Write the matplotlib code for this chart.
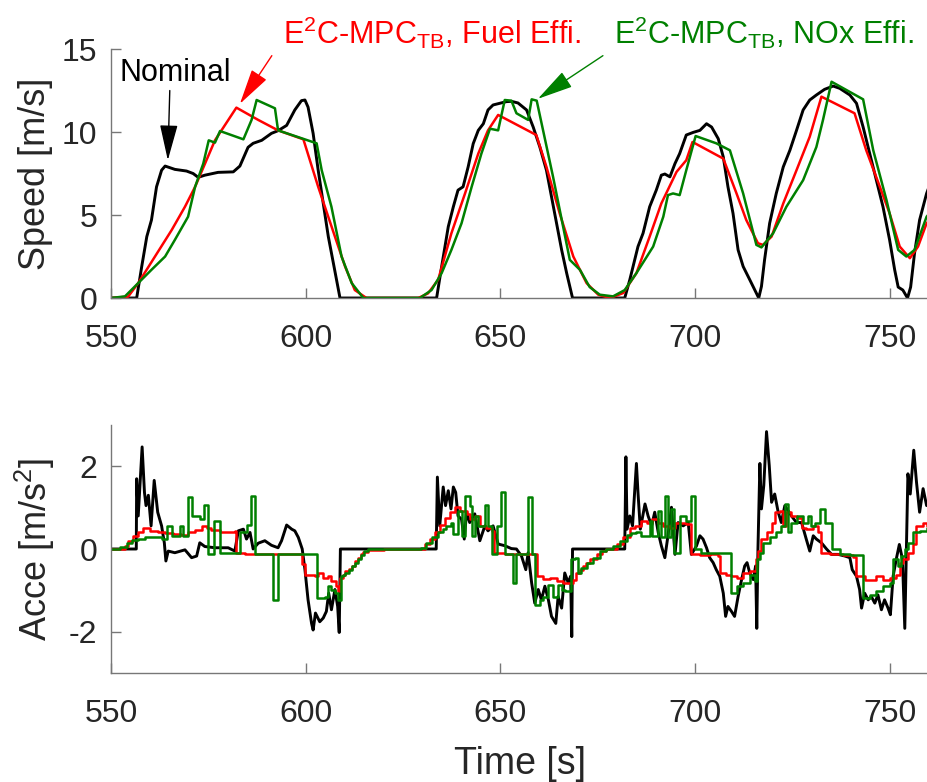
import matplotlib
matplotlib.use("Agg")
import matplotlib.pyplot as plt

plt.rcParams['font.family'] = ['Liberation Sans', 'DejaVu Sans']
plt.rcParams['mathtext.fontset'] = 'custom'
plt.rcParams['mathtext.rm'] = 'Liberation Sans'
plt.rcParams['mathtext.it'] = 'Liberation Sans:italic'
plt.rcParams['axes.unicode_minus'] = False

# speed [m/s], nominal trajectory
t_nom = [550, 556.6, 557.9, 559.2, 560.4, 561.7, 563.0, 563.9, 566.4, 569.4, 571.1, 572.4,
         574.1, 577.5, 581.4, 583.1, 585.2, 586.5, 588.7, 591.2, 592.9, 595.1, 597.2, 598.9,
         599.8, 600.6, 601.9, 603.2, 604.5, 605.8, 607.1, 608.8, 633.6, 634.9, 636.6, 637.9,
         639.1, 640.4, 641.7, 643.0, 644.3, 645.6, 646.8, 648.1, 649.8, 651.5, 652.8, 654.5,
         656.7, 658.4, 660.1, 661.8, 663.1, 664.4, 665.7, 667.0, 668.5, 681.9, 683.2, 685.3,
         686.6, 688.3, 690.0, 691.3, 692.2, 693.5, 694.8, 696.0, 697.7, 699.5, 701.2, 702.9,
         704.2, 705.9, 707.2, 708.4, 709.7, 711.0, 712.3, 714.0, 715.3, 716.3, 717.0, 717.8,
         719.1, 720.8, 722.6, 724.3, 726.0, 727.7, 729.4, 731.1, 733.2, 735.4, 737.1, 739.7,
         741.4, 743.1, 744.8, 746.5, 748.2, 749.9, 751.2, 752.1, 753.3, 754.5, 755.3, 756.3,
         757.6, 759.4, 760.5]
v_nom = [0, 0, 1.9, 3.7, 4.7, 6.7, 7.7, 7.95, 7.75, 7.65, 7.5, 7.27,
         7.4, 7.57, 7.6, 7.95, 9.08, 9.32, 9.5, 9.92, 10.08, 10.4, 11.33, 11.89,
         11.93, 11.5, 9.92, 7.7, 5.7, 3.7, 2.1, 0, 0, 1.9, 4.3, 5.5,
         6.5, 6.7, 7.9, 9.3, 10.1, 10.5, 11.33, 11.63, 11.73, 11.83, 11.85, 11.75,
         11.33, 10.3, 9.1, 7.7, 6.1, 4.5, 2.9, 1.49, 0, 0, 1.1, 3.1,
         3.9, 5.5, 6.5, 7.4, 7.47, 7.3, 8.1, 8.7, 9.82, 9.98, 10.1, 10.5,
         10.3, 9.6, 8.5, 6.7, 5.1, 2.9, 1.9, 1.1, 0.48, 0, 0.7, 2.3,
         4.5, 6.3, 7.9, 8.9, 10.1, 11.33, 11.93, 12.23, 12.57, 12.77, 12.63, 12.23,
         11.73, 10.3, 8.7, 7.1, 5.5, 3.5, 1.7, 0.66, 0.48, 0, 0.66, 2.7,
         4.7, 6.3, 7.0]

# speed, E2C-MPC_TB fuel efficient
t_fuel = [550, 554.4, 557.0, 561.3, 565.6, 569.0, 571.6, 576.7, 582.2, 587.8, 592.9, 599.4,
          603.2, 607.5, 610.1, 612.6, 615.6, 628.9, 631.4, 634.0, 637.4, 640.9, 644.3, 646.8,
          649.4, 659.2, 661.8, 665.2, 668.7, 672.1, 675.1, 678.1, 681.5, 684.9, 688.3, 691.3,
          695.2, 697.7, 699.3, 707.2, 710.6, 713.1, 716.1, 717.4, 719.6, 722.6, 726.0, 729.4,
          732.4, 740.9, 743.9, 747.4, 749.9, 752.5, 755.1, 757.2, 759.4, 760.5]
v_fuel = [0, 0.08, 0.9, 2.5, 4.1, 5.5, 6.7, 9.5, 11.47, 10.73, 10.1, 9.56,
          6.7, 3.7, 1.9, 0.48, 0, 0, 0.28, 1.1, 3.9, 6.3, 8.7, 10.1,
          11.03, 9.82, 7.9, 5.1, 2.5, 0.9, 0.2, 0, 0.3, 1.5, 3.7, 5.7,
          7.6, 8.3, 9.4, 8.4, 6.3, 4.7, 3.3, 3.2, 3.7, 5.7, 7.7, 9.72,
          12.13, 11.13, 8.9, 6.7, 5.1, 3.1, 2.4, 3.1, 4.5, 4.8]

# speed, E2C-MPC_TB NOx efficient
t_nox = [550, 553.6, 557.0, 560.4, 563.9, 566.4, 569.8, 571.6, 573.7, 575.1, 576.7, 578.0,
         584.0, 586.1, 587.4, 592.1, 592.9, 602.8, 604.1, 606.6, 609.2, 611.8, 614.8, 629.3,
         632.3, 634.9, 637.4, 640.0, 642.6, 645.1, 647.3, 649.4, 651.1, 652.8, 654.1, 657.1,
         658.0, 659.3, 663.5, 667.8, 670.4, 672.9, 675.5, 678.9, 681.9, 684.9, 689.2, 691.8,
         693.0, 694.3, 696.0, 697.7, 700.1, 705.4, 708.9, 712.3, 715.7, 717.0, 720.0, 723.4,
         727.7, 731.1, 732.8, 735.0, 743.1, 745.7, 749.1, 752.1, 754.2, 756.3, 759.4, 760.5]
v_nox = [0, 0.1, 0.9, 1.7, 2.5, 3.5, 4.9, 6.7, 8.1, 9.5, 9.36, 10.06,
         9.56, 10.73, 11.93, 11.43, 10.1, 9.32, 7.7, 5.5, 2.5, 0.9, 0, 0,
         0.48, 1.5, 2.9, 4.5, 6.7, 8.7, 10.2, 10.1, 11.93, 11.89, 11.13, 10.73,
         11.97, 11.89, 7.3, 2.3, 1.7, 0.66, 0.2, 0.1, 0.48, 1.5, 3.1, 4.9,
         6.2, 6.3, 6.2, 7.7, 9.76, 9.32, 8.9, 6.3, 3.2, 3.05, 3.9, 5.5,
         7.1, 9.1, 10.73, 13.03, 11.97, 8.9, 5.9, 2.9, 2.5, 2.9, 4.9, 5.2]

# acceleration [m/s^2], nominal
ta_nom = [550, 556.5, 556.6, 557.0, 558.0, 558.6, 559.0, 559.6, 560.3, 561.1, 562.0, 563.0,
          563.7, 564.1, 564.7, 566.4, 569.0, 570.7, 572.0, 572.8, 574.1, 576.7, 580.1, 581.8,
          582.7, 584.0, 584.8, 585.7, 586.5, 587.8, 589.5, 591.2, 592.9, 593.8, 595.1, 596.4,
          597.2, 598.1, 599.1, 599.8, 600.6, 601.5, 601.9, 602.5, 603.6, 604.5, 605.3, 605.9,
          606.6, 607.5, 608.2, 608.6, 608.9, 633.5, 633.8, 634.4, 635.3, 635.9, 636.6, 637.3,
          637.9, 638.5, 639.1, 640.0, 640.7, 641.3, 642.1, 643.4, 644.7, 646.0, 646.8, 648.1,
          649.4, 651.1, 652.8, 654.1, 655.4, 656.5, 657.1, 658.0, 658.8, 659.7, 660.5, 661.4,
          662.3, 663.1, 664.2, 664.8, 665.7, 666.5, 667.4, 668.0, 668.3, 668.5, 681.9, 682.2,
          682.5, 683.2, 683.9, 684.9, 685.3, 685.9, 687.1, 687.9, 688.8, 689.6, 690.5, 691.3,
          692.2, 693.0, 693.9, 694.8, 695.6, 696.9, 698.2, 699.0, 700.3, 701.2, 702.0, 702.9,
          703.7, 704.6, 705.4, 706.3, 707.2, 707.8, 708.4, 709.3, 710.1, 711.0, 711.9, 712.7,
          713.3, 714.0, 714.9, 715.5, 715.8, 716.1, 716.6, 717.0, 717.6, 718.3, 719.0, 719.6,
          720.4, 721.3, 722.1, 723.0, 723.8, 724.7, 726.0, 727.3, 728.5, 729.4, 730.3, 731.1,
          732.4, 733.7, 735.0, 736.7, 738.4, 739.7, 740.3, 741.4, 742.2, 742.7, 743.5, 744.4,
          745.2, 746.1, 746.9, 747.8, 748.6, 749.5, 750.1, 750.8, 751.6, 752.4, 753.2, 753.8,
          754.2, 754.6, 755.2, 756.1, 756.8, 757.6, 758.5, 759.4, 760.5]
a_nom = [0, 0, 1.7, 0.8, 2.47, 1.37, 1.05, 1.3, 0.56, 1.66, 0.89, 0.56,
         0.15, -0.29, -0.05, -0.09, -0.02, -0.21, -0.17, 0.15, 0.06, 0.03, 0.03, -0.05,
         0.44, 0.48, 0.24, 0.4, 0, 0.14, 0.2, 0.09, 0.03, 0.2, 0.58, 0.48,
         0.44, 0.28, 0, -0.5, -1.23, -1.8, -1.96, -1.55, -1.76, -1.67, -1.51, -1.07,
         -1.47, -0.98, -1.39, -2.02, 0, 0, 1.74, 0.56, 1.5, 1.05, 1.41, 0.97,
         1.5, 1.37, 0.8, 0.72, 0.24, 0.89, 0.64, 0.85, 0.2, 0.56, 0.44, 0.56,
         0.12, 0.08, 0.01, 0, -0.17, -0.5, -0.09, -0.82, -1.31, -0.98, -1.23, -0.9,
         -1.23, -1.63, -1.8, -1.15, -1.43, -0.58, -0.82, -0.66, -2.12, 0, 0, 2.23,
         0.48, 0.8, 0.56, 2.07, 1.37, 0.48, 1.09, 0.8, 0.56, 0.89, 0.4, 0.08,
         -0.21, 0.32, 1.01, -0.13, 0.64, 0.56, 0.64, -0.13, 0.07, 0.32, 0.24, 0.03,
         -0.21, -0.33, -0.5, -0.66, -1.07, -1.63, -1.39, -1.51, -1.63, -1.15, -0.74, -0.41,
         -0.33, -0.58, -0.74, -0.41, -1.92, 0, 2.07, 0.97, 1.54, 2.84, 2.02, 1.13,
         1.33, 0.89, 0.64, 1.05, 0.93, 0.8, 0.64, 0.64, 0.24, -0.05, 0.32, 0.24,
         0.15, 0, -0.13, -0.13, -0.17, -0.21, -0.5, -0.66, -0.98, -1.43, -1.07, -1.23,
         -1.15, -1.31, -1.11, -1.47, -1.23, -1.43, -1.59, -0.66, -0.25, 0.11, -0.25, -1.92,
         -0.09, 1.82, 1.33, 2.39, 1.62, 0.89, 1.46, 1.05, 1.2]

# acceleration, fuel efficient (piecewise constant)
ta_fuel = [550, 553.6, 554.4, 555.7, 557.0, 558.3, 560.0, 562.1, 563.9, 566.0, 568.1, 569.8,
           571.6, 573.3, 574.6, 575.8, 578.0, 581.8, 582.2, 584.4, 598.9, 599.1, 599.8, 602.3,
           603.2, 604.5, 605.8, 606.6, 607.7, 608.3, 608.9, 609.5, 610.1, 611.0, 611.8, 612.6,
           613.5, 614.2, 614.8, 616.0, 620.0, 628.9, 630.6, 631.9, 633.2, 634.4, 635.7, 637.0,
           638.3, 639.6, 641.3, 642.1, 643.4, 644.7, 646.4, 647.7, 648.4, 651.1, 653.7, 659.3,
           661.0, 662.7, 664.4, 666.1, 668.7, 669.5, 670.3, 671.2, 672.0, 672.9, 674.7, 676.0,
           677.2, 679.8, 681.5, 683.2, 684.5, 686.2, 687.5, 688.8, 690.5, 691.8, 693.5, 694.8,
           697.7, 699.0, 701.2, 703.7, 705.9, 706.3, 708.0, 709.3, 710.6, 712.3, 714.0, 715.5,
           716.1, 717.0, 718.3, 719.6, 720.4, 721.7, 722.6, 723.4, 724.7, 726.0, 727.3, 728.5,
           730.3, 731.5, 732.4, 734.5, 738.0, 740.5, 741.4, 743.5, 746.5, 748.2, 749.9, 751.6,
           752.5, 753.3, 754.6, 755.9, 756.8, 758.5, 759.4, 760.5]
a_fuel = [0, 0.07, 0.2, 0.32, 0.41, 0.5, 0.44, 0.41, 0.38, 0.36, 0.33, 0.4,
          0.46, 0.56, 0.52, 0.46, 0.41, 0.44, -0.09, -0.11, -0.13, -0.37, -0.62, -0.66,
          -0.58, -0.7, -0.66, -0.78, -0.89, -1.02, -0.7, -0.62, -0.54, -0.48, -0.41, -0.3,
          -0.21, -0.13, -0.07, -0.02, 0, 0, 0.12, 0.24, 0.41, 0.57, 0.76, 0.9,
          1.01, 0.93, 0.85, 0.72, 0.8, 0.56, 0.52, 0.44, -0.09, -0.11, -0.13, -0.66,
          -0.72, -0.7, -0.78, -0.82, -0.74, -0.58, -0.5, -0.41, -0.33, -0.25, -0.13, -0.06,
          0, 0.12, 0.28, 0.52, 0.56, 0.68, 0.64, 0.72, 0.63, 0.56, 0.52, 0.64,
          0.6, -0.13, -0.15, -0.13, -0.17, -0.58, -0.62, -0.66, -0.7, -0.58, -0.54, -0.25,
          -0.05, 0.24, 0.4, 0.64, 0.89, 0.93, 0.56, 0.89, 0.8, 0.76, 0.52, 0.48,
          0.56, 0.4, -0.09, -0.13, -0.15, -0.19, -0.66, -0.74, -0.66, -0.74, -0.7, -0.62,
          -0.33, -0.25, -0.09, 0.12, 0.56, 0.64, 0.56, 0.56]

# acceleration, NOx efficient (piecewise constant)
ta_nox = [550, 552.3, 554.0, 555.3, 557.0, 558.7, 563.0, 564.3, 565.7, 567.6, 568.5, 569.8,
          570.9, 572.8, 573.9, 574.9, 576.4, 578.0, 583.0, 585.0, 586.0, 587.1, 591.7, 593.0,
          603.0, 604.9, 605.6, 606.6, 607.5, 608.2, 609.0, 609.6, 610.1, 611.0, 611.8, 612.6,
          613.5, 614.2, 615.0, 616.0, 629.7, 631.0, 632.3, 634.0, 635.3, 636.1, 637.4, 637.9,
          639.0, 640.0, 640.9, 642.1, 642.6, 643.4, 644.3, 646.0, 646.8, 647.7, 649.0, 650.1,
          651.1, 653.1, 654.1, 657.1, 658.2, 658.8, 660.1, 661.0, 662.3, 663.5, 664.8, 665.7,
          666.5, 668.0, 669.1, 670.0, 670.8, 672.1, 673.8, 675.5, 677.2, 678.9, 680.6, 682.4,
          683.6, 684.9, 686.2, 688.3, 689.0, 690.5, 691.1, 692.2, 693.0, 693.9, 694.6, 696.0,
          697.7, 699.0, 699.9, 701.6, 705.4, 709.3, 710.6, 712.3, 714.0, 715.3, 715.9, 716.6,
          717.4, 719.1, 720.8, 722.1, 723.0, 723.7, 724.7, 726.0, 727.7, 729.0, 729.8, 730.7,
          732.0, 733.3, 735.0, 737.1, 739.7, 743.1, 744.8, 746.5, 748.2, 749.9, 750.8, 752.1,
          752.9, 753.8, 754.6, 755.9, 757.6, 759.4, 760.5]
a_nox = [0, 0.06, 0.15, 0.22, 0.25, 0.28, 0.24, 0.56, 0.32, 0.56, 0.32, 1.25,
         0.8, 0.72, 1.07, -0.13, 0.68, -0.09, 0.4, 0.58, 1.29, -0.13, -1.23, -0.13,
         -1.19, -1.15, -0.9, -0.98, -1.07, -1.23, -0.66, -0.62, -0.58, -0.5, -0.41, -0.33,
         -0.24, -0.15, -0.04, 0, 0.03, 0.14, 0.28, 0.41, 0.48, 0.56, 0.64, 0.36,
         0.93, 0.32, 1.29, 1.05, 0.32, 0.8, 0.56, 1.07, 0.56, -0.13, 0.56, 1.37,
         -0.13, -0.82, -0.13, 1.27, -0.13, -1.35, -1.23, -1.15, -0.86, -1.15, -0.86, -0.98,
         -1.02, -0.25, -0.21, -0.58, -0.46, -0.33, -0.21, -0.04, 0, 0.08, 0.2, 0.33,
         0.38, 0.4, 0.32, 0.68, 0.32, 0.93, 0.28, 1.29, 0.28, 0.97, -0.09, 0.8,
         0.68, 1.29, 0, -0.09, -0.1, -1.07, -0.9, -0.82, -0.62, -0.78, -0.25, -0.09,
         0.15, 0.28, 0.4, 0.56, 1.09, 0.4, 0.64, 0.8, 0.64, 0.8, 0.56, 0.64,
         0.98, 0.64, 0, -0.13, -0.15, -1.19, -1.11, -1.02, -0.9, -0.82, -0.25, -0.41,
         -0.17, 0, 0.15, 0.4, 0.44, 0.52, 0.52]

c_nom, c_fuel, c_nox = 'black', 'red', (0, 0.5, 0)
axis_gray = '#777777'
text_dark = '#262626'

fig = plt.figure(figsize=(9.27, 7.82), dpi=100)
ax1 = fig.add_axes([0.1197, 0.6189, 0.8824, 0.3184])
ax2 = fig.add_axes([0.1197, 0.1394, 0.8824, 0.3171])

ax1.plot(t_nom, v_nom, color=c_nom, lw=2.1)
ax1.plot(t_fuel, v_fuel, color=c_fuel, lw=1.8)
ax1.plot(t_nox, v_nox, color=c_nox, lw=1.8)

ax2.plot(ta_nom, a_nom, color=c_nom, lw=2.1)
ax2.step(ta_fuel, a_fuel, where='post', color=c_fuel, lw=1.8)
ax2.step(ta_nox, a_nox, where='post', color=c_nox, lw=1.8)

for ax in (ax1, ax2):
    ax.set_xlim(550, 760)
    ax.set_xticks([550, 600, 650, 700, 750])
    ax.spines['top'].set_visible(False)
    ax.spines['right'].set_visible(False)
    for s in ('left', 'bottom'):
        ax.spines[s].set_color(axis_gray)
        ax.spines[s].set_linewidth(1.0)
    ax.tick_params(direction='in', length=7, width=1, color=axis_gray,
                   labelcolor=text_dark, labelsize=23)
    ax.tick_params(axis='x', pad=19)
    ax.tick_params(axis='y', pad=10)

ax1.set_ylim(0, 15)
ax1.set_yticks([0, 5, 10, 15])
ax1.set_ylabel('Speed [m/s]', fontsize=26, color=text_dark, labelpad=6)

ax2.set_ylim(-3, 3)
ax2.set_yticks([-2, 0, 2])
ax2.set_ylabel('Acce [m/s$^2$]', fontsize=26, color=text_dark, labelpad=8)
ax2.set_xlabel('Time [s]', fontsize=27, color=text_dark, labelpad=12)

# annotations
arrow_kw = dict(arrowstyle='-|>,head_length=1.4,head_width=0.35', lw=1.0,
                mutation_scale=16, shrinkA=0, shrinkB=0)
ax1.annotate('', xy=(564.6, 8.3), xytext=(565.1, 12.5), annotation_clip=False,
             arrowprops=dict(color='black', **arrow_kw))
ax1.annotate('', xy=(583.1, 11.7), xytext=(591.3, 14.6), annotation_clip=False,
             arrowprops=dict(color=c_fuel, **arrow_kw))
ax1.annotate('', xy=(659.6, 12.0), xytext=(676.3, 14.6), annotation_clip=False,
             arrowprops=dict(color=c_nox, **arrow_kw))

ax1.text(566.5, 13.55, 'Nominal', fontsize=22, ha='center', va='center', color='black')
ax1.text(632.4, 16.0, 'E$^2$C-MPC$_{\\mathrm{TB}}$, Fuel Effi.', fontsize=22,
         ha='center', va='center', color=c_fuel, clip_on=False)
ax1.text(717.7, 16.0, 'E$^2$C-MPC$_{\\mathrm{TB}}$, NOx Effi.', fontsize=22,
         ha='center', va='center', color=c_nox, clip_on=False)

fig.savefig('out.png', dpi=100)
